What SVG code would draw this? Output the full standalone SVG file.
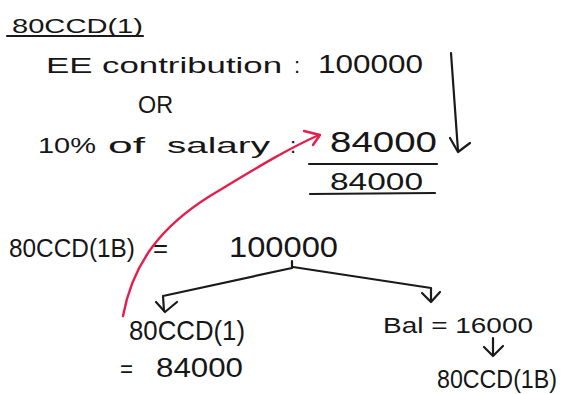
<svg xmlns="http://www.w3.org/2000/svg" width="571" height="394" viewBox="0 0 571 394">
<style>
  text { font-family: "Liberation Sans", Arial, sans-serif; fill: #161616; }
  .ln { stroke: #1a1a1a; stroke-width: 2.2; fill: none; stroke-linecap: round; stroke-linejoin: round; }
  .red { stroke: #e2204c; stroke-width: 2.4; fill: none; stroke-linecap: round; stroke-linejoin: round; }
</style>
<rect width="571" height="394" fill="#ffffff"/>

<g id="heading">
  <text x="12" y="33" font-size="21" textLength="131" lengthAdjust="spacingAndGlyphs">80CCD(1)</text>
  <line class="ln" x1="7" y1="36" x2="143" y2="36"/>
</g>

<g id="ee-contribution">
  <text x="46" y="73" font-size="22" textLength="236" lengthAdjust="spacingAndGlyphs">EE contribution</text>
  <text x="294" y="73" font-size="22">:</text>
  <text x="318" y="73" font-size="25" textLength="105" lengthAdjust="spacingAndGlyphs">100000</text>
</g>

<g id="or">
  <text x="138" y="113" font-size="24" textLength="35" lengthAdjust="spacingAndGlyphs">OR</text>
</g>

<g id="salary">
  <text x="38" y="153" font-size="22" textLength="58" lengthAdjust="spacingAndGlyphs">10%</text>
  <text x="108" y="153" font-size="22" textLength="37" lengthAdjust="spacingAndGlyphs">of</text>
  <text x="167" y="153" font-size="22" textLength="103" lengthAdjust="spacingAndGlyphs">salary</text>
  <text x="290" y="153" font-size="22">:</text>
  <text x="330" y="152" font-size="30" textLength="107" lengthAdjust="spacingAndGlyphs">84000</text>
</g>

<g id="result">
  <line class="ln" x1="309" y1="164" x2="437" y2="164"/>
  <text x="330" y="190" font-size="24" textLength="93" lengthAdjust="spacingAndGlyphs">84000</text>
  <line class="ln" x1="310" y1="194" x2="435" y2="193"/>
</g>

<g id="ccd1b-total">
  <text x="9" y="257" font-size="26" textLength="126" lengthAdjust="spacingAndGlyphs">80CCD(1B)</text>
  <text x="153" y="257" font-size="26" textLength="15" lengthAdjust="spacingAndGlyphs">=</text>
  <text x="229" y="257" font-size="30" textLength="109" lengthAdjust="spacingAndGlyphs">100000</text>
</g>

<g id="ccd1-part">
  <text x="129" y="340" font-size="28" textLength="116" lengthAdjust="spacingAndGlyphs">80CCD(1)</text>
  <text x="120" y="377" font-size="24" textLength="13" lengthAdjust="spacingAndGlyphs">=</text>
  <text x="156" y="377" font-size="27" textLength="87" lengthAdjust="spacingAndGlyphs">84000</text>
</g>

<g id="balance">
  <text x="383" y="333" font-size="22" textLength="150" lengthAdjust="spacingAndGlyphs">Bal = 16000</text>
</g>

<g id="ccd1b-part">
  <text x="437" y="388" font-size="25" textLength="120" lengthAdjust="spacingAndGlyphs">80CCD(1B)</text>
</g>

<g id="connectors">
  <!-- right vertical arrow -->
  <path class="ln" d="M451,53 L458,151"/>
  <path class="ln" d="M450,138 L458,152 L470,143"/>
  <!-- red curve -->
  <path class="red" d="M123,316 C133,262 162,226 210,196 C250,172 285,150 319,135"/>
  <path class="red" d="M304,131 L320,135 L313,145"/>
  <!-- branch -->
  <path class="ln" d="M292,261 L292,268"/>
  <path class="ln" d="M292,268 L163,296 L164,311"/>
  <path class="ln" d="M156,302 L165,312 L177,302"/>
  <path class="ln" d="M293,267 L431,288 L431,300"/>
  <path class="ln" d="M422,293 L431,302 L440,292"/>
  <!-- balance down arrow -->
  <path class="ln" d="M493,338 L493,355"/>
  <path class="ln" d="M484,347 L493,356 L503,346"/>
</g>
</svg>
